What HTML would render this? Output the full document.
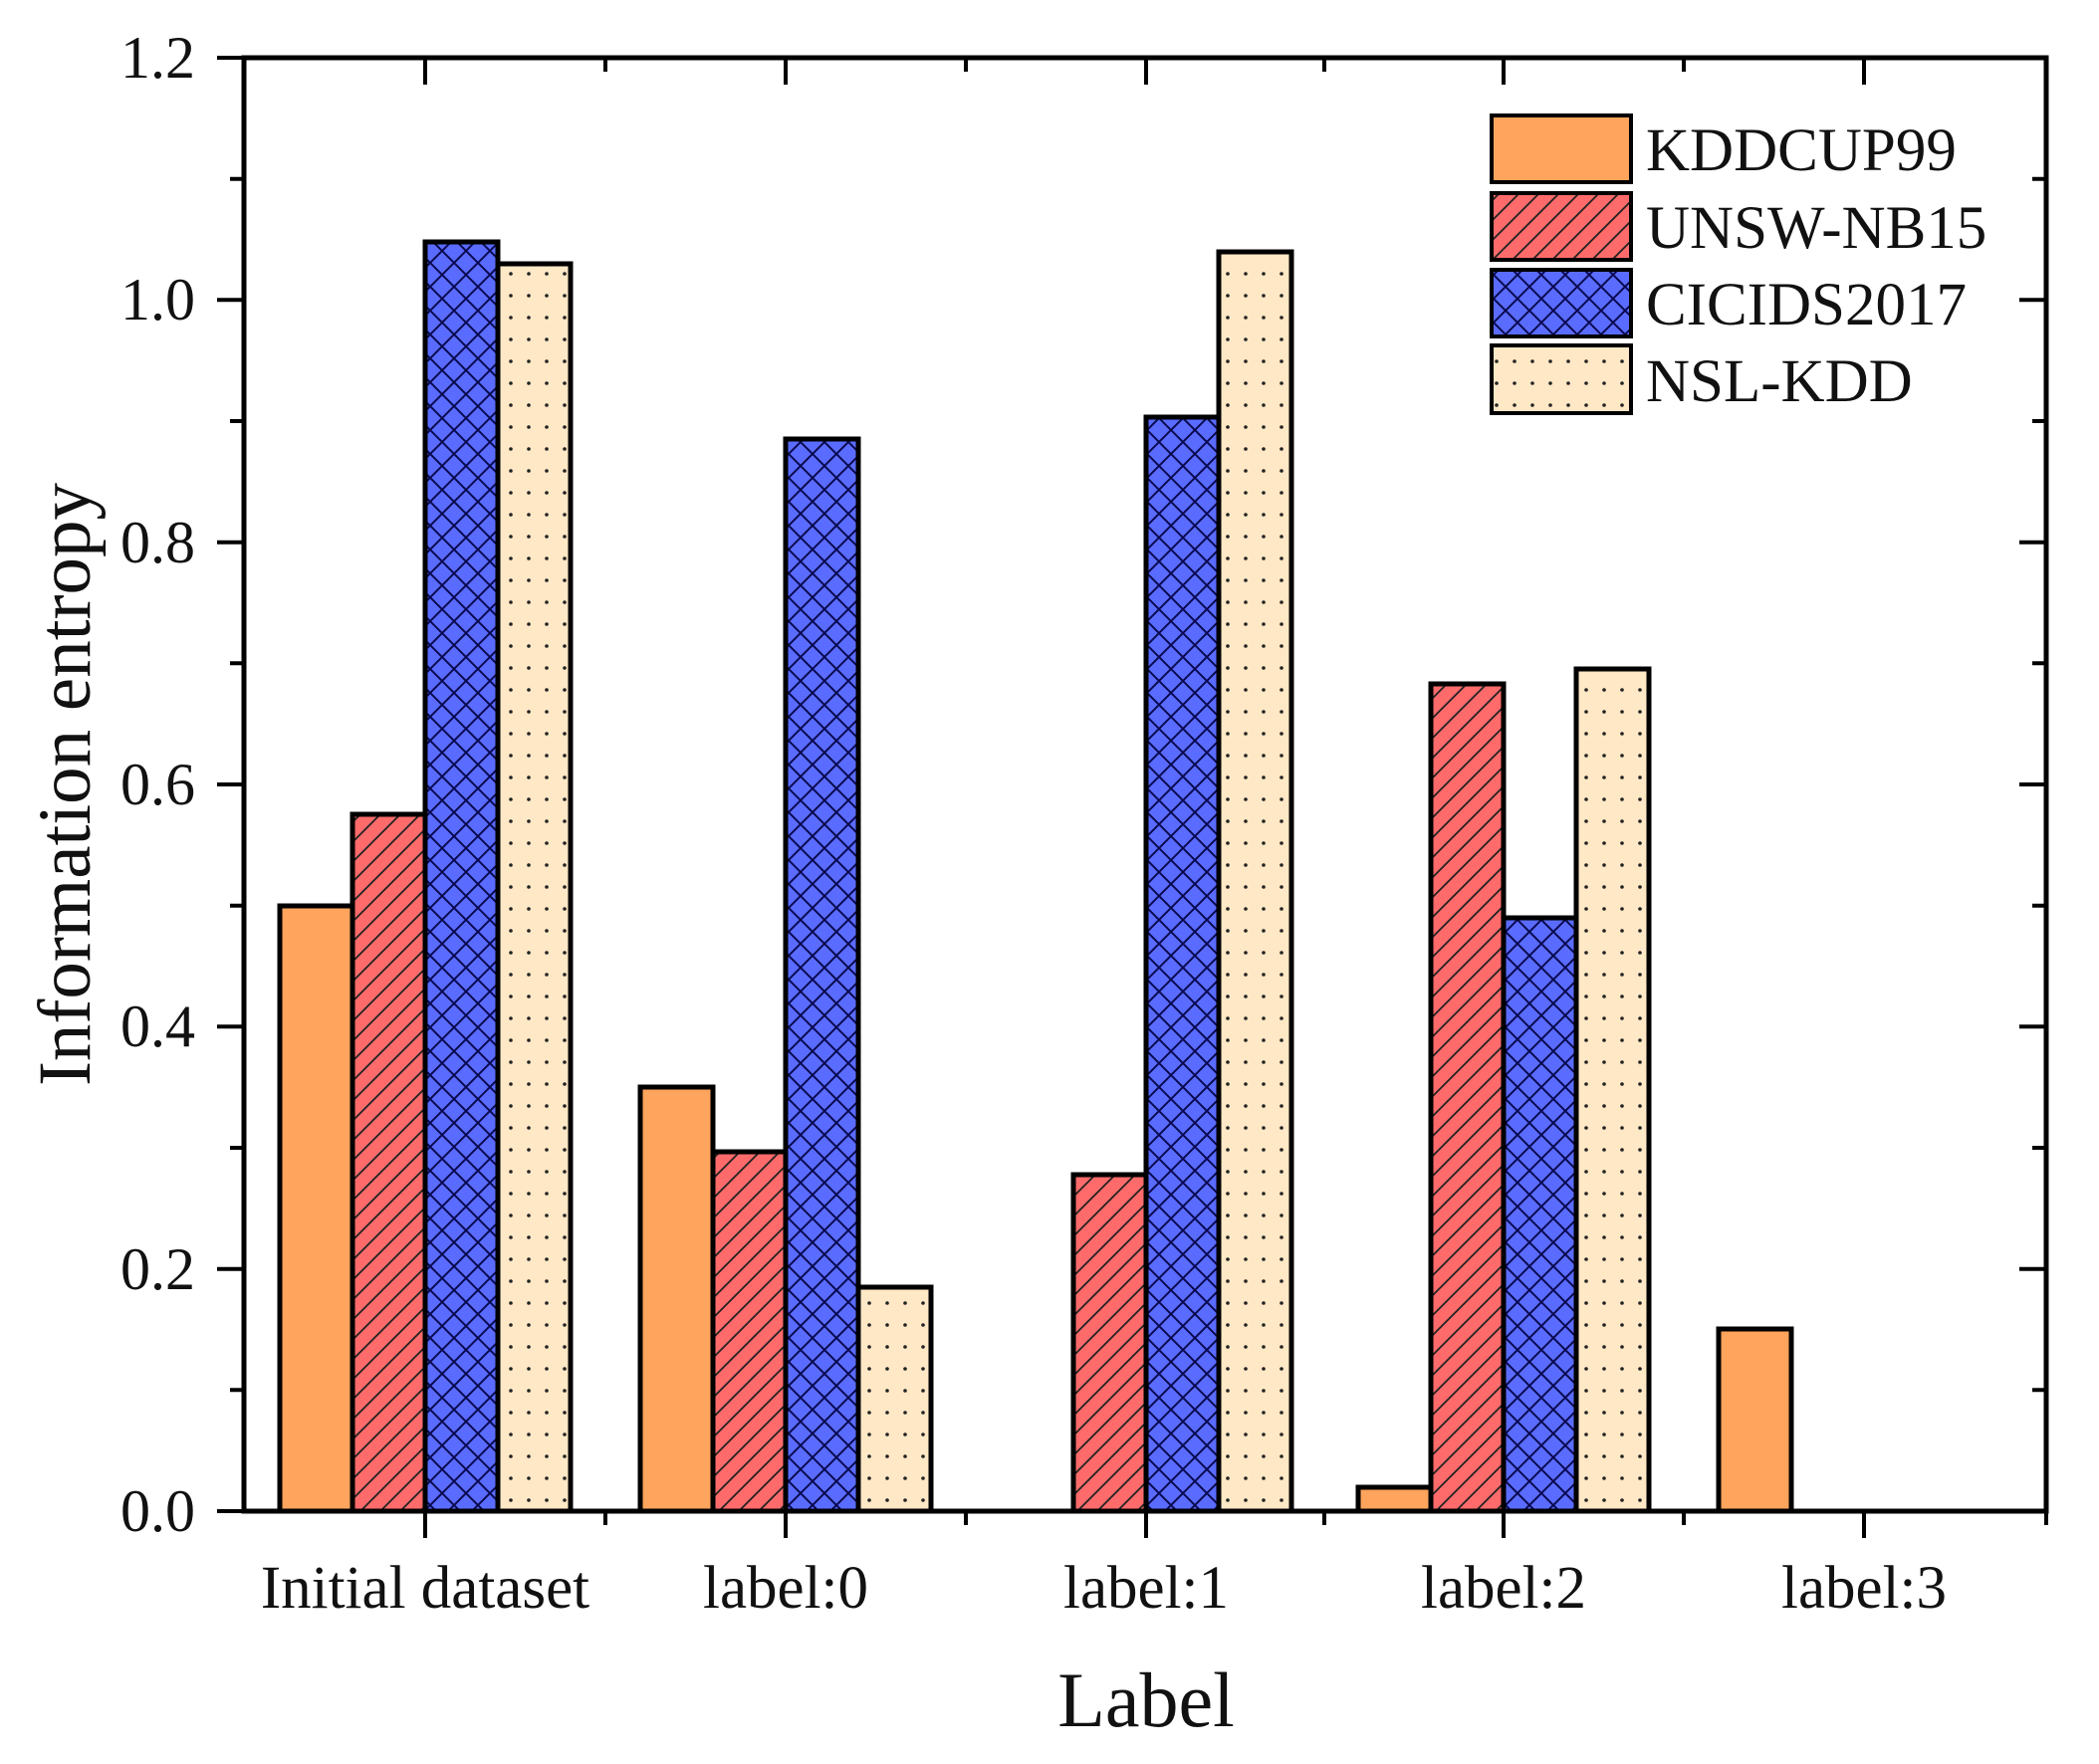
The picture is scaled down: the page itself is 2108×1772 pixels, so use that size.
<!DOCTYPE html>
<html><head><meta charset="utf-8"><style>
html,body{margin:0;padding:0;background:#fff;}
svg{display:block;}
text{font-family:"Liberation Serif",serif;fill:#111;}
</style></head><body>
<svg width="2108" height="1772" viewBox="0 0 2108 1772" xmlns="http://www.w3.org/2000/svg">
<defs>
<pattern id="diag" patternUnits="userSpaceOnUse" width="20" height="20">
<rect width="20" height="20" fill="#FF6B6B"/>
<path d="M-5,25 L25,-5 M-5,5 L5,-5 M15,25 L25,15" stroke="#222" stroke-width="1.8"/>
</pattern>
<pattern id="cross" patternUnits="userSpaceOnUse" width="24" height="24">
<rect width="24" height="24" fill="#5A6CFF"/>
<path d="M0,0 L24,24 M24,0 L0,24" stroke="#0a0a50" stroke-width="2"/>
</pattern>
<pattern id="dots" patternUnits="userSpaceOnUse" width="18" height="22">
<rect width="18" height="22" fill="#FFE8C6"/>
<circle cx="9" cy="11" r="1.8" fill="#222"/>
</pattern>
</defs>

<g stroke="#000" stroke-width="5">
<rect x="281" y="910" width="73" height="608" fill="#FFA45C"/>
<rect x="354" y="818" width="73" height="700" fill="url(#diag)"/>
<rect x="427" y="243" width="73" height="1275" fill="url(#cross)"/>
<rect x="500" y="265" width="73" height="1253" fill="url(#dots)"/>

<rect x="643" y="1092" width="73" height="426" fill="#FFA45C"/>
<rect x="716" y="1157" width="73" height="361" fill="url(#diag)"/>
<rect x="789" y="441" width="73" height="1077" fill="url(#cross)"/>
<rect x="862" y="1293" width="73" height="225" fill="url(#dots)"/>

<rect x="1078" y="1180" width="73" height="338" fill="url(#diag)"/>
<rect x="1151" y="419" width="73" height="1099" fill="url(#cross)"/>
<rect x="1224" y="253" width="73" height="1265" fill="url(#dots)"/>

<rect x="1364" y="1494" width="73" height="24" fill="#FFA45C"/>
<rect x="1437" y="687" width="73" height="831" fill="url(#diag)"/>
<rect x="1510" y="922" width="73" height="596" fill="url(#cross)"/>
<rect x="1583" y="672" width="73" height="846" fill="url(#dots)"/>

<rect x="1726" y="1335" width="73" height="183" fill="#FFA45C"/>
</g>

<rect x="245" y="58" width="1810" height="1460" fill="none" stroke="#000" stroke-width="5"/>

<g stroke="#000" stroke-width="4">
<path d="M218,1518H245 M218,1274.7H245 M218,1031.3H245 M218,788H245 M218,544.7H245 M218,301.3H245 M218,58H245"/>
<path d="M231,1396.3H245 M231,1153H245 M231,909.7H245 M231,666.3H245 M231,423H245 M231,179.7H245"/>
<path d="M2028,1274.7H2055 M2028,1031.3H2055 M2028,788H2055 M2028,544.7H2055 M2028,301.3H2055"/>
<path d="M2041,1396.3H2055 M2041,1153H2055 M2041,909.7H2055 M2041,666.3H2055 M2041,423H2055 M2041,179.7H2055"/>
<path d="M427,1518V1545 M789,1518V1545 M1151,1518V1545 M1510,1518V1545 M1872,1518V1545"/>
<path d="M608,1518V1532 M970,1518V1532 M1330,1518V1532 M1691,1518V1532 M2055,1518V1532"/>
<path d="M427,58V85 M789,58V85 M1151,58V85 M1510,58V85 M1872,58V85"/>
<path d="M608,58V72 M970,58V72 M1330,58V72 M1691,58V72"/>
</g>

<g font-size="60" text-anchor="end">
<text x="196" y="1538">0.0</text>
<text x="196" y="1295">0.2</text>
<text x="196" y="1051">0.4</text>
<text x="196" y="808">0.6</text>
<text x="196" y="565">0.8</text>
<text x="196" y="321">1.0</text>
<text x="196" y="78">1.2</text>
</g>
<g font-size="61" text-anchor="middle">
<text x="427" y="1615">Initial dataset</text>
<text x="789" y="1615">label:0</text>
<text x="1151" y="1615">label:1</text>
<text x="1510" y="1615">label:2</text>
<text x="1872" y="1615">label:3</text>
</g>
<text x="1151" y="1734" font-size="78" text-anchor="middle">Label</text>
<text transform="translate(90,788) rotate(-90)" font-size="75" text-anchor="middle">Information entropy</text>

<g stroke="#000" stroke-width="4">
<rect x="1498" y="116" width="140" height="67" fill="#FFA45C"/>
<rect x="1498" y="194" width="140" height="67" fill="url(#diag)"/>
<rect x="1498" y="271" width="140" height="67" fill="url(#cross)"/>
<rect x="1498" y="347" width="140" height="68" fill="url(#dots)"/>
</g>
<g font-size="61">
<text x="1653" y="171">KDDCUP99</text>
<text x="1653" y="249">UNSW-NB15</text>
<text x="1653" y="326">CICIDS2017</text>
<text x="1653" y="403">NSL-KDD</text>
</g>
</svg>
</body></html>
